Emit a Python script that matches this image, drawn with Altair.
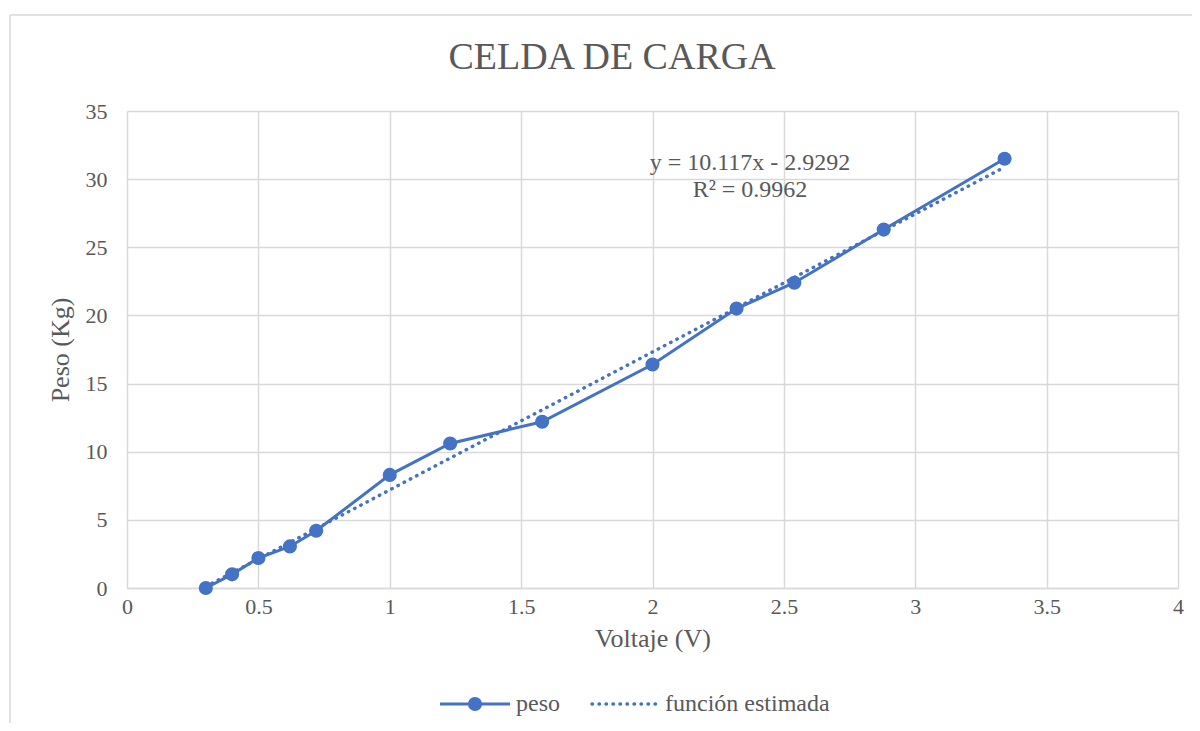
import altair as alt
import pandas as pd

# Data
voltaje = [0.30, 0.40, 0.50, 0.62, 0.72, 1.00, 1.23, 1.58, 2.00, 2.32, 2.54, 2.88, 3.34]
peso = [0.0, 1.0, 2.2, 3.05, 4.2, 8.3, 10.6, 12.2, 16.4, 20.5, 22.4, 26.3, 31.5]
x_ticks = [0, 0.5, 1, 1.5, 2, 2.5, 3, 3.5, 4]
y_ticks = [0, 5, 10, 15, 20, 25, 30, 35]
eq_lines = ["y = 10.117x - 2.9292", "R² = 0.9962"]
legend_labels = ["peso", "función estimada"]
title_text = "CELDA DE CARGA"

BLUE = "#4472C4"
GRAY = "#595959"
GRID = "#d9d9d9"
FONT = "Liberation Serif, Times New Roman, serif"

W, H = 1051, 477

df = pd.DataFrame({"v": voltaje, "p": peso})

X = alt.X("v:Q", scale=alt.Scale(domain=[0, 4], nice=False), title="Voltaje (V)",
          axis=alt.Axis(values=x_ticks, format="~g", labelFlush=False))
Y = alt.Y("p:Q", scale=alt.Scale(domain=[0, 35], nice=False), title="Peso (Kg)",
          axis=alt.Axis(values=y_ticks, format="~g", labelFlush=False))

base = alt.Chart(df)

line = base.mark_line(color=BLUE, strokeWidth=3).encode(x=X, y=Y)
pts = base.mark_circle(color=BLUE, size=200, opacity=1).encode(x=X, y=Y)

DOTS = [0.5, 6.5]
trend = base.transform_regression("v", "p").mark_line(
    color=BLUE, strokeWidth=3.4, strokeDash=DOTS, strokeCap="round"
).encode(x=X, y=Y)

one = pd.DataFrame({"a": [0]})


def txt(t, x, y, align, size=24):
    return alt.Chart(one).mark_text(
        font=FONT, fontSize=size, color=GRAY, align=align, baseline="middle", text=t
    ).encode(x=alt.value(x - 127), y=alt.value(y - 111))


title = txt(title_text, 612, 58, "center", 38)
eq1 = txt(eq_lines[0], 750, 163, "center")
eq2 = txt(eq_lines[1], 750, 190, "center")

# manual legend (below plot)
ly = 704 - 111
leg_line1 = alt.Chart(one).mark_rule(color=BLUE, strokeWidth=3).encode(
    x=alt.value(440 - 127), x2=alt.value(510 - 127), y=alt.value(ly))
leg_pt = alt.Chart(one).mark_circle(color=BLUE, size=200, opacity=1).encode(
    x=alt.value(475 - 127), y=alt.value(ly))
leg_line2 = alt.Chart(one).mark_rule(
    color=BLUE, strokeWidth=3.4, strokeDash=DOTS, strokeCap="round").encode(
    x=alt.value(592 - 127), x2=alt.value(660 - 127), y=alt.value(ly))
leg_t1 = txt(legend_labels[0], 516, 704, "left")
leg_t2 = txt(legend_labels[1], 665, 704, "left")

# outer chart frame (left and top edges)
frame = alt.Chart(one).mark_rule(color=GRID, strokeWidth=1.5).encode(
    x=alt.value(10 - 127), x2=alt.value(1250), y=alt.value(15 - 111))
frame2 = alt.Chart(one).mark_rule(color=GRID, strokeWidth=1.5).encode(
    x=alt.value(10 - 127), y=alt.value(15 - 111), y2=alt.value(800))

chart = alt.layer(
    trend, line, pts, frame, frame2, title, eq1, eq2,
    leg_line1, leg_pt, leg_line2, leg_t1, leg_t2
).properties(
    width=W, height=H,
    autosize=alt.AutoSizeParams(type="none"),
    padding={"left": 119, "top": 103, "right": 14, "bottom": 135},
).configure_view(stroke=None).configure_axis(
    labelFont=FONT, labelFontSize=22, labelColor=GRAY,
    titleFont=FONT, titleFontSize=26, titleColor=GRAY, titleFontWeight="normal",
    gridColor=GRID, gridWidth=1.5, domainColor=GRID, domainWidth=1.5, ticks=False,
).configure_axisX(labelPadding=8, titlePadding=8).configure_axisY(
    labelPadding=20, titlePadding=12, domain=False)

chart.save("out.html", embed_options={"renderer": "svg", "actions": False})
